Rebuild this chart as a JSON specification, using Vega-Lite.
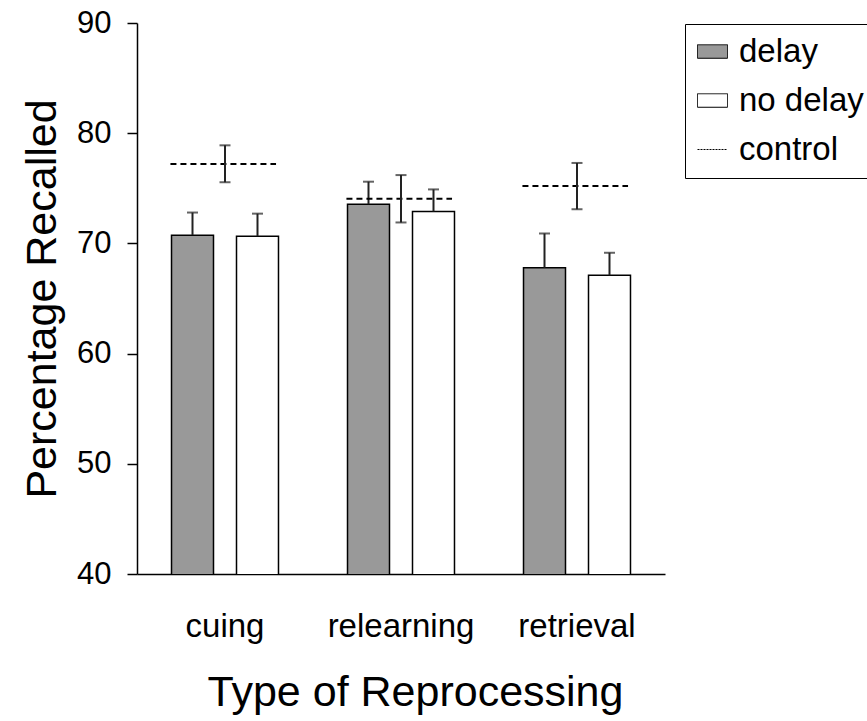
{
  "$schema": "https://vega.github.io/schema/vega-lite/v6.json",
  "autosize": {"type": "none"},
  "padding": {"left": 137, "top": 23, "right": 202, "bottom": 147},
  "width": 528,
  "height": 551,
  "config": {
    "view": {"stroke": null},
    "font": "Liberation Sans",
    "axis": {"grid": false, "labelColor": "black", "titleColor": "black", "titleFontWeight": "normal", "labelFont": "Liberation Sans", "titleFont": "Liberation Sans"},
    "legend": {"labelFont": "Liberation Sans"}
  },
  "datasets": {
    "bars": [
      {"type": "cuing", "cond": "delay", "mean": 70.75, "hi": 72.8},
      {"type": "cuing", "cond": "no delay", "mean": 70.65, "hi": 72.7},
      {"type": "relearning", "cond": "delay", "mean": 73.55, "hi": 75.6},
      {"type": "relearning", "cond": "no delay", "mean": 72.9, "hi": 74.9},
      {"type": "retrieval", "cond": "delay", "mean": 67.8, "hi": 70.9},
      {"type": "retrieval", "cond": "no delay", "mean": 67.1, "hi": 69.15}
    ],
    "control": [
      {"type": "cuing", "mean": 77.2, "lo": 75.55, "hi": 78.9},
      {"type": "relearning", "mean": 74.05, "lo": 71.9, "hi": 76.2},
      {"type": "retrieval", "mean": 75.2, "lo": 73.1, "hi": 77.3}
    ]
  },
  "layer": [
    {
      "data": {"name": "bars"},
      "mark": {"type": "bar", "stroke": "black", "strokeWidth": 1.5, "clip": true},
      "encoding": {
        "x": {
          "field": "type", "type": "nominal",
          "scale": {"domain": ["cuing", "relearning", "retrieval"], "paddingInner": 0, "paddingOuter": 0},
          "title": "Type of Reprocessing",
          "axis": {"labelAngle": 0, "ticks": false, "domainColor": "black", "domainWidth": 1.5, "labelFontSize": 33, "labelPadding": 36, "titleFontSize": 43, "titlePadding": 28, "titleX": 278}
        },
        "xOffset": {
          "field": "cond", "type": "nominal",
          "scale": {"domain": ["delay", "no delay"], "paddingInner": 0.354, "paddingOuter": 0.531}
        },
        "y": {
          "field": "mean", "type": "quantitative",
          "scale": {"domain": [40, 90], "nice": false, "zero": false},
          "title": "Percentage Recalled",
          "axis": {"values": [40, 50, 60, 70, 80, 90], "tickSize": 10, "tickColor": "black", "tickWidth": 1.5, "domainColor": "black", "domainWidth": 1.5, "labelFontSize": 31, "labelPadding": 16, "titleFontSize": 43, "titlePadding": 12}
        },
        "fill": {
          "field": "cond", "type": "nominal",
          "scale": {"domain": ["delay", "no delay", "control"], "range": ["#999999", "#ffffff", "transparent"]},
          "legend": {
            "title": null,
            "orient": "none",
            "legendX": 548,
            "legendY": 1,
            "strokeColor": "black",
            "padding": 11,
            "labelFontSize": 33,
            "labelColor": "black",
            "labelOffset": 10,
            "symbolSize": 900,
            "rowPadding": 15,
            "symbolStrokeColor": "black",
            "symbolStrokeWidth": 1,
            "symbolType": {"expr": "datum.value === 'control' ? 'M-1,0H1' : 'M-1,-0.45H1V0.45H-1Z'"},
            "symbolDash": {"expr": "datum.value === 'control' ? [2, 1] : [1, 0]"}
          }
        }
      }
    },
    {
      "data": {"name": "bars"},
      "mark": {"type": "rule", "color": "#222222", "strokeWidth": 2},
      "encoding": {
        "x": {"field": "type", "type": "nominal"},
        "xOffset": {"field": "cond", "type": "nominal"},
        "y": {"field": "mean", "type": "quantitative"},
        "y2": {"field": "hi"}
      }
    },
    {
      "data": {"name": "bars"},
      "mark": {"type": "tick", "orient": "horizontal", "color": "#222222", "size": 11, "thickness": 2},
      "encoding": {
        "x": {"field": "type", "type": "nominal"},
        "xOffset": {"field": "cond", "type": "nominal"},
        "y": {"field": "hi", "type": "quantitative"}
      }
    },
    {
      "data": {"name": "control"},
      "mark": {"type": "rule", "color": "black", "strokeWidth": 2, "strokeDash": [6, 4]},
      "encoding": {
        "x": {"field": "type", "type": "nominal", "bandPosition": 0.19},
        "x2": {"field": "type", "bandPosition": 0.79},
        "y": {"field": "mean", "type": "quantitative"}
      }
    },
    {
      "data": {"name": "control"},
      "mark": {"type": "rule", "color": "#222222", "strokeWidth": 2},
      "encoding": {
        "x": {"field": "type", "type": "nominal", "bandPosition": 0.5},
        "y": {"field": "lo", "type": "quantitative"},
        "y2": {"field": "hi"}
      }
    },
    {
      "data": {"name": "control"},
      "mark": {"type": "tick", "orient": "horizontal", "color": "#222222", "size": 11, "thickness": 2},
      "encoding": {
        "x": {"field": "type", "type": "nominal", "bandPosition": 0.5},
        "y": {"field": "hi", "type": "quantitative"}
      }
    },
    {
      "data": {"name": "control"},
      "mark": {"type": "tick", "orient": "horizontal", "color": "#222222", "size": 11, "thickness": 2},
      "encoding": {
        "x": {"field": "type", "type": "nominal", "bandPosition": 0.5},
        "y": {"field": "lo", "type": "quantitative"}
      }
    }
  ]
}
